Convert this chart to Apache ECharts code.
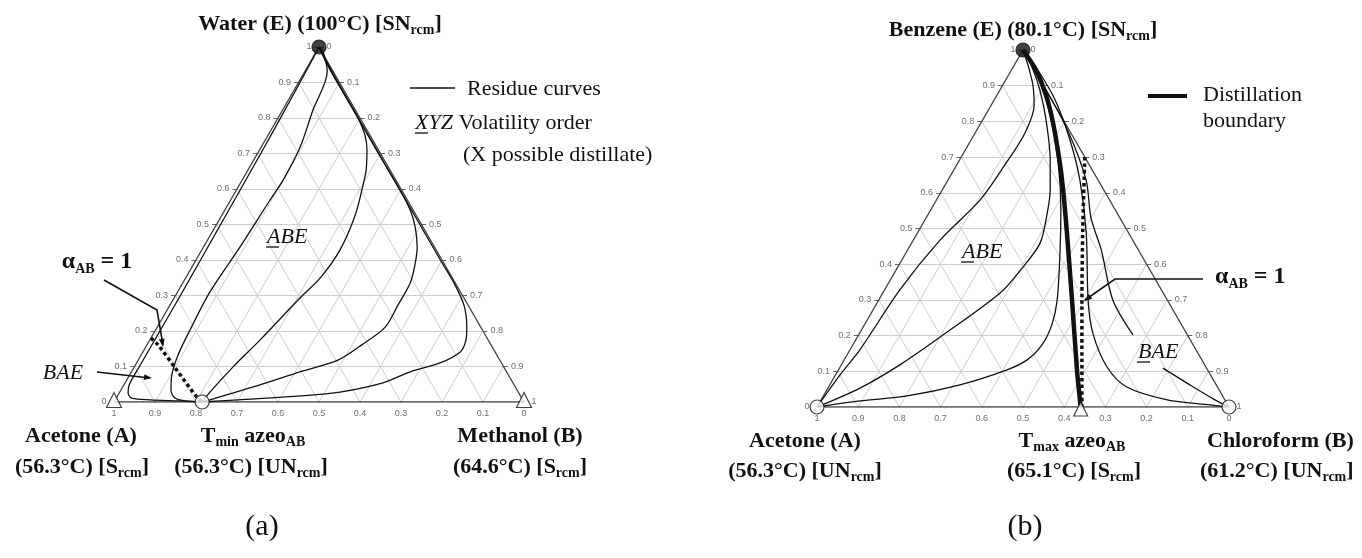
<!DOCTYPE html>
<html><head><meta charset="utf-8">
<script src="https://cdn.jsdelivr.net/npm/echarts@6/dist/echarts.min.js"></script>
<style>html,body{margin:0;padding:0;background:#fff}#c{width:1362px;height:558px}</style>
</head><body><div id="c"></div><script>
const H = Math.sqrt(3) / 2;
const tickValues = [0, 0.1, 0.2, 0.3, 0.4, 0.5, 0.6, 0.7, 0.8, 0.9, 1];
const tickLabels = ['0', '0.1', '0.2', '0.3', '0.4', '0.5', '0.6', '0.7', '0.8', '0.9', '1'];

// (a) Acetone (A) – Methanol (B) – Water (E); points are [xB, xE]
const aResidue1 = [[0.215,0],[0.16,0.003],[0.085,0.006],[0.038,0.011],[0.022,0.025],[0.013,0.048],[0.012,0.10],[0.012,0.30],[0.010,0.50],[0.008,0.70],[0.005,0.85],[0.002,0.95],[0,1]];
const aResidue2 = [[0.215,0],[0.172,0.003],[0.143,0.011],[0.122,0.034],[0.103,0.076],[0.090,0.132],[0.084,0.203],[0.079,0.31],[0.089,0.437],[0.096,0.569],[0.100,0.625],[0.095,0.718],[0.074,0.823],[0.055,0.930],[0.017,0.986],[0,1]];
const aResidue3 = [[0.215,0],[0.220,0.028],[0.241,0.099],[0.269,0.175],[0.307,0.293],[0.328,0.349],[0.337,0.428],[0.325,0.527],[0.302,0.611],[0.288,0.654],[0.262,0.71],[0.236,0.752],[0.195,0.80],[0.13,0.865],[0.06,0.935],[0,1]];
const aResidue4 = [[0.215,0],[0.231,0.006],[0.271,0.023],[0.332,0.048],[0.411,0.085],[0.487,0.118],[0.524,0.161],[0.556,0.211],[0.556,0.273],[0.555,0.335],[0.541,0.386],[0.521,0.437],[0.488,0.493],[0.452,0.541],[0.392,0.604],[0.295,0.70],[0.195,0.80],[0.096,0.90],[0.046,0.95],[0,1]];
const aResidue5 = [[0.215,0],[0.328,0.008],[0.446,0.017],[0.537,0.028],[0.629,0.054],[0.68,0.085],[0.74,0.11],[0.774,0.141],[0.771,0.175],[0.755,0.211],[0.717,0.273],[0.662,0.335],[0.596,0.40],[0.496,0.50],[0.396,0.60],[0.296,0.70],[0.196,0.80],[0.096,0.90],[0,1]];
const aAlphaLine = [[0,0.18],[0.027,0.161],[0.101,0.096],[0.195,0.014],[0.215,0]];
const aAzeo = [0.215, 0];

// (b) Acetone (A) – Chloroform (B) – Benzene (E); points are [xB, xE]
const bBoundary = [[0.64,0],[0.579,0.104],[0.469,0.30],[0.326,0.552],[0.248,0.683],[0.150,0.832],[0.067,0.936],[0,1]];
const bAlphaLine = [[0.30,0.70],[0.40,0.49],[0.50,0.286],[0.58,0.126],[0.643,0]];
const bResidue1 = [[0,0],[0.011,0.09],[0.024,0.16],[0.037,0.328],[0.065,0.468],[0.106,0.58],[0.117,0.678],[0.121,0.767],[0.104,0.846],[0.073,0.902],[0.033,0.958],[0,1]];
const bResidue2 = [[0,0],[0.078,0.053],[0.142,0.118],[0.201,0.196],[0.285,0.319],[0.304,0.392],[0.312,0.459],[0.289,0.538],[0.262,0.608],[0.22,0.692],[0.154,0.804],[0.097,0.888],[0.046,0.952],[0,1]];
const bResidue3 = [[0,0],[0.096,0.017],[0.203,0.031],[0.316,0.062],[0.409,0.104],[0.444,0.132],[0.459,0.174],[0.455,0.23],[0.433,0.30],[0.37,0.44],[0.316,0.552],[0.244,0.683],[0.157,0.818],[0.086,0.91],[0,1]];
const bResidue4 = [[1,0],[0.951,0.006],[0.84,0.02],[0.724,0.056],[0.648,0.112],[0.566,0.207],[0.508,0.30],[0.41,0.487],[0.32,0.636],[0.24,0.748],[0.148,0.86],[0.064,0.944],[0,1]];
const bResidue5Upper = [[0.666,0.202],[0.568,0.30],[0.47,0.44],[0.40,0.53],[0.335,0.636],[0.22,0.776],[0.10,0.90],[0,1]];
const bResidue5Lower = [[1,0],[0.956,0.02],[0.874,0.062],[0.785,0.109]];
const bAzeo = [0.64, 0];

const serif = '"Liberation Serif","Times New Roman",serif';
const sans = '"Liberation Sans",Arial,sans-serif';
const INK = '#111';

function xy(p) { return [p[0] + p[1] / 2, p[1] * H]; }

function frameSeries(g) {
  const gl = [];
  tickValues.forEach(t => {
    if (t <= 0 || t >= 1) return;
    gl.push({coords: [xy([0, t]), xy([1 - t, t])]});
    gl.push({coords: [xy([t, 0]), xy([t, 1 - t])]});
    gl.push({coords: [xy([1 - t, 0]), xy([0, 1 - t])]});
  });
  const tk = [], lb = [], lLeft = [], lRight = [];
  const d = 0.011;
  tickValues.forEach((t, i) => {
    const b = xy([1 - t, 0]);
    tk.push({coords: [b, [b[0], b[1] - d]]});
    lb.push([b[0], b[1], tickLabels[i]]);
    const l = xy([0, t]);
    tk.push({coords: [l, [l[0] - d, l[1]]]});
    lLeft.push([l[0], l[1], tickLabels[i]]);
    const r = xy([t, 1 - t]);
    tk.push({coords: [r, [r[0] + d, r[1]]]});
    lRight.push([r[0], r[1], tickLabels[i]]);
  });
  const common = {xAxisIndex: g, yAxisIndex: g, silent: true, animation: false};
  const lab = (data, pos) => Object.assign({
    type: 'scatter', data, symbolSize: 1, itemStyle: {color: 'rgba(0,0,0,0)'}, z: 6,
    label: {show: true, position: pos, distance: 7, formatter: p => p.value[2], fontSize: 9, color: '#4a4a4a', fontFamily: sans}
  }, common);
  return [
    Object.assign({type: 'lines', coordinateSystem: 'cartesian2d', data: gl, lineStyle: {color: '#cdcdcd', width: 1, opacity: 1}, z: 1}, common),
    Object.assign({type: 'lines', coordinateSystem: 'cartesian2d', data: tk, lineStyle: {color: '#666', width: 1, opacity: 1}, z: 2}, common),
    Object.assign({type: 'line', data: [[0,0],[1,0],[0.5,H],[0,0]], symbol: 'none', lineStyle: {color: '#444', width: 1.4}, z: 2}, common),
    lab(lb, 'bottom'), lab(lLeft, 'left'), lab(lRight, 'right')
  ];
}

function curve(g, pts, style, z) {
  return {type: 'line', xAxisIndex: g, yAxisIndex: g, data: pts.map(xy), symbol: 'none', smooth: 0.3,
    lineStyle: Object.assign({color: INK, width: 1.3}, style || {}), silent: true, animation: false, z: z || 3};
}

function markers(g, items) {
  return {type: 'scatter', xAxisIndex: g, yAxisIndex: g, silent: true, animation: false, z: 10,
    data: items.map(it => ({value: xy(it.p), symbol: it.s, symbolSize: it.size || 14, symbolOffset: it.off || [0, 0],
      itemStyle: {color: it.fill, borderColor: INK, borderWidth: 1.2}}))};
}

const dotted = {type: [3.5, 3], width: 3.5, cap: 'butt'};
const series = [].concat(
  frameSeries(0), frameSeries(1),
  [aResidue1, aResidue2, aResidue3, aResidue4, aResidue5].map(c => curve(0, c)),
  [curve(0, aAlphaLine, dotted, 4)],
  [bResidue1, bResidue2, bResidue3, bResidue4, bResidue5Upper, bResidue5Lower].map(c => curve(1, c)),
  [curve(1, bBoundary, {width: 4.5}, 4), curve(1, bAlphaLine, dotted, 4)],
  [markers(0, [
    {p: [0, 0], s: 'triangle', fill: '#fff', off: [0, -2], size: 15},
    {p: [1, 0], s: 'triangle', fill: '#fff', off: [0, -2], size: 15},
    {p: [0, 1], s: 'circle', fill: INK},
    {p: aAzeo, s: 'circle', fill: '#fff'}
  ]), markers(1, [
    {p: [0, 0], s: 'circle', fill: '#fff'},
    {p: [1, 0], s: 'circle', fill: '#fff'},
    {p: [0, 1], s: 'circle', fill: INK},
    {p: bAzeo, s: 'triangle', fill: '#fff', off: [0, 2]}
  ])]
);

const rich = {
  b: {fontFamily: serif, fontWeight: 'bold', fontSize: 22, lineHeight: 26, fill: INK},
  s: {fontFamily: serif, fontWeight: 'bold', fontSize: 14, lineHeight: 15, verticalAlign: 'bottom', fill: INK},
  r: {fontFamily: serif, fontSize: 22, lineHeight: 26, fill: INK},
  i: {fontFamily: serif, fontStyle: 'italic', fontSize: 22, lineHeight: 26, fill: INK},
  a: {fontFamily: serif, fontWeight: 'bold', fontSize: 24, lineHeight: 28, fill: INK},
  as: {fontFamily: serif, fontWeight: 'bold', fontSize: 14, lineHeight: 16, verticalAlign: 'bottom', fill: INK},
  big: {fontFamily: serif, fontSize: 30, lineHeight: 34, fill: INK}
};
function txt(x, y, text, align) {
  return {type: 'text', x: x, y: y, z: 100, silent: true,
    style: {text: text, rich: rich, align: align || 'center', verticalAlign: 'middle', textAlign: align || 'center', textVerticalAlign: 'middle'}};
}
function poly(points, w) {
  return {type: 'polyline', z: 100, silent: true, shape: {points: points}, style: {stroke: INK, lineWidth: w || 1.5, fill: null}};
}
function head(p1, p2) {
  const dx = p2[0] - p1[0], dy = p2[1] - p1[1], L = Math.hypot(dx, dy), ux = dx / L, uy = dy / L;
  const bx = p2[0] - ux * 8, by = p2[1] - uy * 8;
  return {type: 'polygon', z: 100, silent: true, shape: {points: [p2, [bx - uy * 3, by + ux * 3], [bx + uy * 3, by - ux * 3]]}, style: {fill: INK}};
}

const graphic = [
  // (a)
  txt(320, 24, '{b|Water (E) (100°C) [SN}{s|rcm}{b|]}'),
  poly([[410, 88], [455, 88]], 1.3),
  txt(467, 89, '{r|Residue curves}', 'left'),
  txt(415, 123, '{i|XYZ}{r| Volatility order}', 'left'),
  poly([[415, 133], [428, 133]], 1.3),
  txt(463, 155, '{r|(X possible distillate)}', 'left'),
  txt(267, 237, '{i|ABE}', 'left'),
  poly([[266, 247], [279, 247]], 1.3),
  txt(97, 262, '{a|α}{as|AB}{a| = 1}'),
  poly([[104, 280], [157, 310], [163, 345]], 1.6), head([157, 310], [163, 347]),
  txt(63, 373, '{i|BAE}'),
  poly([[97, 372], [150, 378]], 1.6), head([97, 372], [152, 378]),
  txt(81, 436, '{b|Acetone (A)}'),
  txt(82, 467, '{b|(56.3°C) [S}{s|rcm}{b|]}'),
  txt(253, 436, '{b|T}{s|min}{b| azeo}{s|AB}'),
  txt(251, 467, '{b|(56.3°C) [UN}{s|rcm}{b|]}'),
  txt(520, 436, '{b|Methanol (B)}'),
  txt(520, 467, '{b|(64.6°C) [S}{s|rcm}{b|]}'),
  txt(262, 527, '{big|(a)}'),
  // (b)
  txt(1023, 30, '{b|Benzene (E) (80.1°C) [SN}{s|rcm}{b|]}'),
  poly([[1148, 96], [1187, 96]], 4),
  txt(1203, 95, '{r|Distillation}', 'left'),
  txt(1203, 121, '{r|boundary}', 'left'),
  txt(962, 252, '{i|ABE}', 'left'),
  poly([[961, 262], [974, 262]], 1.3),
  txt(1138, 352, '{i|BAE}', 'left'),
  poly([[1137, 362], [1150, 362]], 1.3),
  txt(1215, 277, '{a|α}{as|AB}{a| = 1}', 'left'),
  poly([[1203, 279], [1115, 279], [1085, 300]], 1.6), head([1115, 279], [1084, 301]),
  txt(805, 441, '{b|Acetone (A)}'),
  txt(805, 471, '{b|(56.3°C) [UN}{s|rcm}{b|]}'),
  txt(1072, 441, '{b|T}{s|max}{b| azeo}{s|AB}'),
  txt(1074, 471, '{b|(65.1°C) [S}{s|rcm}{b|]}'),
  txt(1207, 441, '{b|Chloroform (B)}', 'left'),
  txt(1200, 471, '{b|(61.2°C) [UN}{s|rcm}{b|]}', 'left'),
  txt(1025, 527, '{big|(b)}')
];

const chart = echarts.init(document.getElementById('c'), null, {renderer: 'canvas'});
chart.setOption({
  animation: false,
  backgroundColor: '#fff',
  grid: [
    {left: 114, top: 47, width: 410, height: 355},
    {left: 817, top: 50, width: 412, height: 357}
  ],
  xAxis: [0, 1].map(g => ({gridIndex: g, type: 'value', min: 0, max: 1, show: false})),
  yAxis: [0, 1].map(g => ({gridIndex: g, type: 'value', min: 0, max: H, show: false})),
  series: series,
  graphic: graphic
});
</script></body></html>
